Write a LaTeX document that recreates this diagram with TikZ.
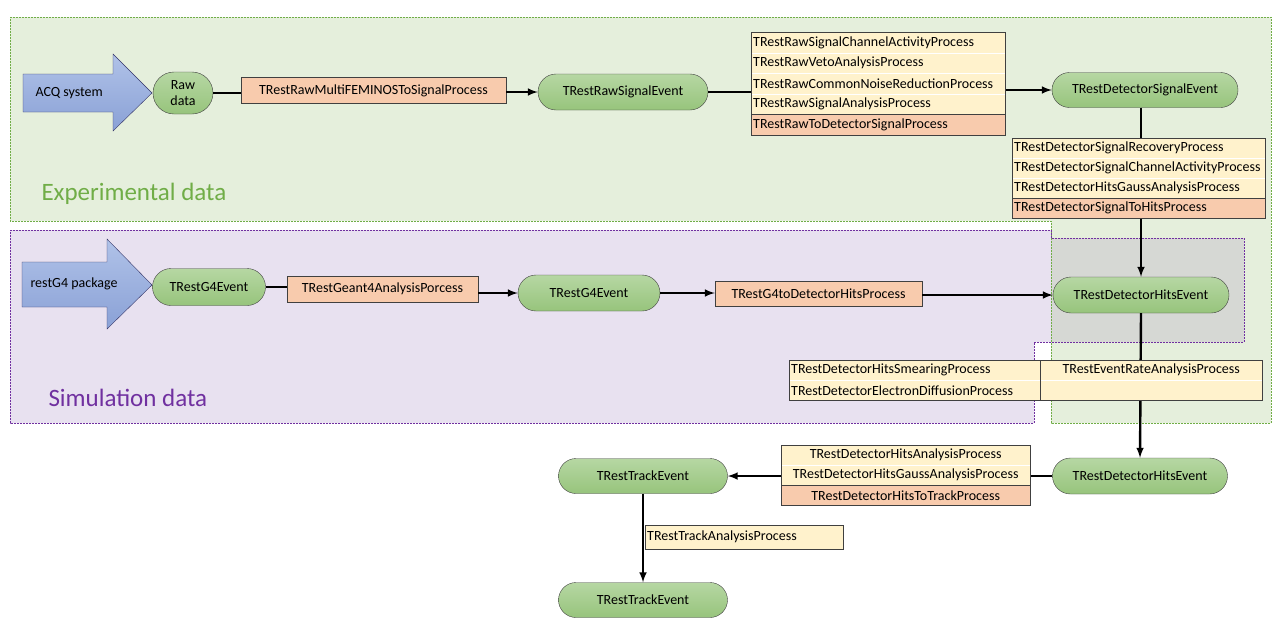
\documentclass[tikz,border=0pt]{standalone}
\usepackage{fontspec}
\setmainfont{Carlito}
\usepackage{tikz}
\usetikzlibrary{arrows,shapes,fit}
\definecolor{regiongreen}{HTML}{E5EFDC}
\definecolor{edgegreen}{HTML}{70AD47}
\definecolor{regionpurple}{HTML}{E8E1F0}
\definecolor{edgepurple}{HTML}{7030A0}
\definecolor{overlapgray}{HTML}{D6D8D4}
\definecolor{procyellow}{HTML}{FFF2CC}
\definecolor{procsalmon}{HTML}{F8CBAD}
\definecolor{boxgray}{HTML}{404040}
\definecolor{evtop}{HTML}{B6D7A3}
\definecolor{evbottom}{HTML}{97C47C}
\definecolor{srctop}{HTML}{B0C2E8}
\definecolor{srcbottom}{HTML}{8AA1D6}

\tikzset{
  event/.style={draw=boxgray,rounded rectangle,top color=evtop,bottom color=evbottom,inner sep=1bp},
  proc/.style={draw=boxgray,fill=procsalmon,inner sep=2bp,minimum height=25bp},
  yrow/.style={draw=white,fill=procyellow,anchor=north west,inner xsep=2bp,inner ysep=0pt,
               minimum height=20bp,text width=#1,align=left},
  srow/.style={yrow=#1,fill=procsalmon,draw=boxgray},
  stackedge/.style={draw=boxgray,inner sep=0pt},
  source/.style={draw=boxgray!80!blue,top color=srctop,bottom color=srcbottom},
  link/.style={line width=2.4bp},
  flow/.style={->,>=latex,line width=2.4bp},
  regionedge/.style={line width=0.7bp,dash pattern=on 2bp off 1bp}
}

\begin{document}
\begin{tikzpicture}[font=\fontsize{14bp}{16bp}\selectfont]
\useasboundingbox (0,0) rectangle (1280bp,-643bp);

% data regions
\fill[regiongreen] (10bp,-17bp) -- (1271bp,-17bp) -- (1271bp,-423bp) -- (1051bp,-423bp) -- (1051bp,-221bp) -- (10bp,-221bp) -- cycle;
\fill[regionpurple] (10bp,-230bp) -- (1051bp,-230bp) -- (1051bp,-238bp) -- (1244bp,-238bp) -- (1244bp,-342bp) -- (1034bp,-342bp) -- (1034bp,-423bp) -- (10bp,-423bp) -- cycle;
\fill[overlapgray] (1051bp,-238bp) rectangle (1244bp,-342bp);
\draw[regionedge,edgegreen] (10bp,-17bp) -- (1271bp,-17bp) -- (1271bp,-423bp) -- (1051bp,-423bp) -- (1051bp,-221bp) -- (10bp,-221bp) -- cycle;
\draw[regionedge,edgepurple] (10bp,-230bp) -- (1051bp,-230bp) -- (1051bp,-238bp) -- (1244bp,-238bp) -- (1244bp,-342bp) -- (1034bp,-342bp) -- (1034bp,-423bp) -- (10bp,-423bp) -- cycle;
\node (explabel) at (38bp,-194bp)[anchor=west,text=edgegreen,font=\fontsize{25bp}{28bp}\selectfont] {Experimental data};
\node (simlabel) at (45bp,-398bp)[anchor=west,text=edgepurple,font=\fontsize{25bp}{28bp}\selectfont] {Simulation data};

% sources
\draw[source] (23bp,-74bp) -- (113bp,-74bp) -- (113bp,-54bp) -- (152bp,-93bp) -- (113bp,-131bp) -- (113bp,-112bp) -- (23bp,-112bp) -- cycle;
\node (acq) at (32bp,-93bp)[anchor=west] {ACQ system};
\draw[source] (22bp,-262bp) -- (107bp,-262bp) -- (107bp,-239bp) -- (152bp,-285bp) -- (107bp,-329bp) -- (107bp,-307bp) -- (22bp,-307bp) -- cycle;
\node (restg4) at (27bp,-284bp)[anchor=west] {restG4 package};

% events
\node (raw) at (183bp,-93bp)[event,minimum width=62bp,minimum height=42bp,align=center] {Raw\\data};
\node (rse) at (623bp,-92bp)[event,minimum width=172bp,minimum height=36bp] {TRestRawSignalEvent};
\node (dse) at (1145bp,-90bp)[event,minimum width=188bp,minimum height=35bp] {TRestDetectorSignalEvent};
\node (g4a) at (209bp,-287bp)[event,minimum width=115bp,minimum height=37bp] {TRestG4Event};
\node (g4b) at (589bp,-293bp)[event,minimum width=144bp,minimum height=36bp] {TRestG4Event};
\node (hm) at (1141bp,-295bp)[event,minimum width=178bp,minimum height=36bp] {TRestDetectorHitsEvent};
\node (hb) at (1140bp,-476bp)[event,minimum width=177bp,minimum height=36bp] {TRestDetectorHitsEvent};
\node (tr1) at (643bp,-476bp)[event,minimum width=171bp,minimum height=35bp] {TRestTrackEvent};
\node (tr2) at (643bp,-600bp)[event,minimum width=171bp,minimum height=35bp] {TRestTrackEvent};

% single processes
\node (fem) at (373.5bp,-90.5bp)[proc,minimum width=265bp,minimum height=26bp] {TRestRawMultiFEMINOSToSignalProcess};
\node (g4ana) at (382.5bp,-289bp)[proc,minimum width=191bp,minimum height=26bp] {TRestGeant4AnalysisPorcess};
\node (g4hits) at (818.5bp,-293.5bp)[proc,minimum width=207bp] {TRestG4toDetectorHitsProcess};

% raw signal stack
\node (s1a) at (751bp,-32bp)[yrow=250bp,minimum height=20.6bp] {TRestRawSignalChannelActivityProcess};
\node (s1b) at (751bp,-52.6bp)[yrow=250bp,minimum height=20.6bp] {TRestRawVetoAnalysisProcess};
\node (s1c) at (751bp,-73.2bp)[yrow=250bp,minimum height=20.6bp] {TRestRawCommonNoiseReductionProcess};
\node (s1d) at (751bp,-93.8bp)[yrow=250bp,minimum height=20.6bp] {TRestRawSignalAnalysisProcess};
\node (s1e) at (751bp,-114.4bp)[srow=250bp,minimum height=20.6bp] {TRestRawToDetectorSignalProcess};
\node (st1) [stackedge,fit=(s1a)(s1e)] {};

% detector signal stack
\node (s2a) at (1012bp,-138bp)[yrow=249bp] {TRestDetectorSignalRecoveryProcess};
\node (s2b) at (1012bp,-158bp)[yrow=249bp] {TRestDetectorSignalChannelActivityProcess};
\node (s2c) at (1012bp,-178bp)[yrow=249bp] {TRestDetectorHitsGaussAnalysisProcess};
\node (s2d) at (1012bp,-198bp)[srow=249bp] {TRestDetectorSignalToHitsProcess};
\node (st2) [stackedge,fit=(s2a)(s2d)] {};

% hits to track stack
\node (s4a) at (781bp,-445bp)[yrow=245bp,align=center] {TRestDetectorHitsAnalysisProcess};
\node (s4b) at (781bp,-465bp)[yrow=245bp,align=center] {TRestDetectorHitsGaussAnalysisProcess};
\node (s4c) at (781bp,-485bp)[srow=245bp,align=center] {TRestDetectorHitsToTrackProcess};
\node (st4) [stackedge,fit=(s4a)(s4c)] {};

\node (tana) at (645bp,-525bp)[yrow=194bp,draw=boxgray,minimum height=24bp] {TRestTrackAnalysisProcess};

% connectors
\draw[link] (raw.east) -- (raw.east -| fem.west);
\draw[flow] (fem.east |- rse.west) -- (rse.west);
\draw[link] (rse.east) -- (rse.east -| st1.west);
\draw[flow] (st1.east |- dse.west) -- (dse.west);
\draw[link] (hm.north |- dse.south) -- (hm.north |- st2.north);
\draw[flow] (hm.north |- st2.south) -- (hm.north);
\draw[link] (g4a.east) -- (g4a.east -| g4ana.west);
\draw[flow] (g4ana.east |- g4b.west) -- (g4b.west);
\draw[flow] (g4b.east) -- (g4b.east -| g4hits.west);
\draw[flow] (g4hits.east |- hm.west) -- (hm.west);
\draw[flow] (hm.south) -- (hb.north);
\draw[link] (hb.west) -- (hb.west -| st4.east);
\draw[flow] (st4.west |- tr1.east) -- (tr1.east);
\draw[flow] (tr1.south) -- (tr2.north);

% smearing stack, over the hits line
\node (s3a) at (789bp,-360bp)[yrow=247bp] {TRestDetectorHitsSmearingProcess};
\node (s3b) at (789bp,-380bp)[yrow=247bp] {TRestDetectorElectronDiffusionProcess};
\node (s3c) at (1040bp,-360bp)[yrow=218bp,align=center] {TRestEventRateAnalysisProcess};
\node (s3d) at (1040bp,-380bp)[yrow=218bp] {};
\node (st3) [stackedge,fit=(s3a)(s3d)] {};
\draw[boxgray] (s3c.north west) -- (s3d.south west);
\end{tikzpicture}
\end{document}
